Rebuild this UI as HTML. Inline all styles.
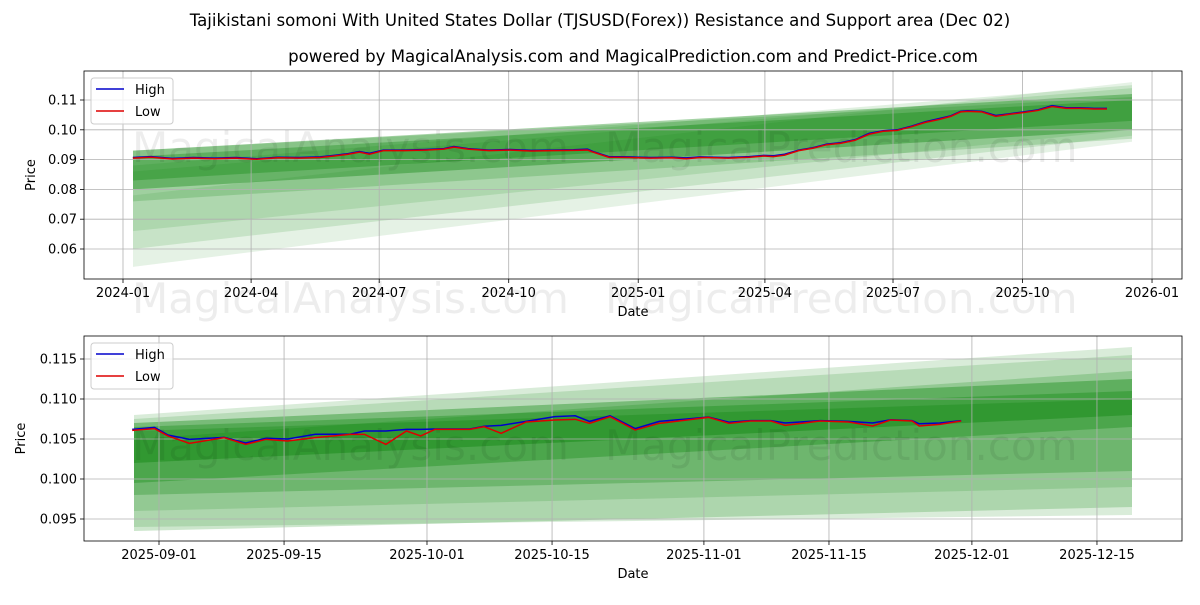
<!DOCTYPE html>
<html><head><meta charset="utf-8"><style>
body{margin:0;background:#fff;}
svg text{font-family:"DejaVu Sans","Liberation Sans",sans-serif;}
</style></head><body>
<svg id="c" width="1200" height="600" xmlns="http://www.w3.org/2000/svg">
<text x="600" y="26" text-anchor="middle" font-size="16.6" fill="#000">Tajikistani somoni With United States Dollar (TJSUSD(Forex)) Resistance and Support area (Dec 02)</text>
<text x="633" y="62" text-anchor="middle" font-size="16.6" fill="#000">powered by MagicalAnalysis.com and MagicalPrediction.com and Predict-Price.com</text>
</svg>
<script>
// ---- top chart data (day offsets from 2024-01-01) ----
const topDays=[7,20,35,50,65,80,95,110,125,140,150,160,168,175,185,200,215,228,235,245,260,275,290,305,320,330,334,345,360,375,390,400,410,420,430,445,455,462,470,480,490,500,510,520,530,540,550,560,570,580,588,595,600,610,620,630,640,650,660,670,680,690,699];
const topLow=[.0905,.0908,.0902,.0905,.0903,.0905,.0901,.0906,.0905,.0907,.0912,.0918,.0925,.0918,.0930,.0930,.0932,.0935,.0942,.0935,.0930,.0932,.0929,.0930,.0931,.0932,.0925,.0908,.0907,.0905,.0906,.0903,.0907,.0906,.0905,.0908,.0912,.0910,.0915,.0930,.0938,.0950,.0955,.0965,.0985,.0995,.0998,.1010,.1025,.1035,.1045,.1060,.1062,.1060,.1045,.1052,.1058,.1065,.1078,.1072,.1072,.1070,.1070];
const topHigh=[.0907,.0910,.0904,.0907,.0905,.0907,.0903,.0908,.0907,.0909,.0914,.0920,.0927,.0921,.0932,.0932,.0934,.0937,.0944,.0937,.0932,.0934,.0931,.0932,.0933,.0935,.0927,.0910,.0909,.0907,.0908,.0906,.0909,.0908,.0907,.0910,.0914,.0913,.0918,.0932,.0940,.0952,.0957,.0967,.0988,.0997,.1000,.1012,.1027,.1038,.1047,.1062,.1064,.1062,.1048,.1054,.1060,.1067,.1081,.1074,.1074,.1072,.1072];
const topTickLabels=["2024-01","2024-04","2024-07","2024-10","2025-01","2025-04","2025-07","2025-10","2026-01"];
const topTickDays=[0,91,182,274,366,456,547,639,731];
const topYTicks=[0.06,0.07,0.08,0.09,0.10,0.11];
const topBandStartLow=[.080,.083,.060,.054,.066,.076];
const topBandStartHigh=[.093,.091,.086,.078,.088,.093];
const topBandEndLow=[.100,.103,.098,.096,.100,.097];
const topBandEndHigh=[.112,.110,.114,.116,.115,.111];
const topBandAlpha=[.35,.3,.13,.1,.12,.18];
// ---- bottom chart data (day offsets from 2025-09-01) ----
const botDays=[-3,-0.5,1,3.4,7.3,9.7,12,14.4,17.5,21.4,23,25.4,27.7,29.3,30.9,34.8,36.4,38.3,41.1,44.3,46.6,48.2,50.5,53.3,56,59.1,61.5,63.8,66.2,68.5,70.1,74,77.2,79.9,81.9,84.3,85.1,87.4,89.8];
const botLow=[.10608,.10629,.10538,.10446,.10517,.10433,.10496,.10475,.10517,.10558,.10558,.10433,.10600,.10538,.10621,.10621,.10654,.10571,.10713,.10738,.10746,.10696,.10779,.10613,.10696,.10738,.10771,.10696,.10725,.10725,.10671,.10725,.10713,.10663,.10738,.10725,.10663,.10683,.10725];
const botHigh=[.10620,.10645,.10550,.10496,.10520,.10450,.10510,.10500,.10560,.10560,.10600,.10600,.10620,.10620,.10625,.10625,.10660,.10670,.10720,.10780,.10790,.10720,.10790,.10630,.10720,.10750,.10775,.10710,.10730,.10730,.10700,.10730,.10720,.10700,.10740,.10730,.10690,.10700,.10730];
const botTickLabels=["2025-09-01","2025-09-15","2025-10-01","2025-10-15","2025-11-01","2025-11-15","2025-12-01","2025-12-15"];
const botTickDays=[0,14,30,44,61,75,91,105];
const botYTicks=[0.095,0.100,0.105,0.110,0.115];
const botBandStartLow=[.102,.0995,.094,.0935,.096,.098];
const botBandStartHigh=[.107,.1065,.108,.105,.1075,.106];
const botBandEndLow=[.108,.1065,.0955,.0965,.099,.101];
const botBandEndHigh=[.1125,.111,.1165,.1135,.1155,.110];
const botBandAlpha=[.35,.3,.15,.2,.15,.25];

const NS="http://www.w3.org/2000/svg";
const svg=document.getElementById('c');
function mk(tag,attrs,parent){const e=document.createElementNS(NS,tag);for(const k in attrs)e.setAttribute(k,attrs[k]);(parent||svg).appendChild(e);return e;}

function drawPanel(o){
  const g=mk('g',{});
  
  
  const xs=d=>o.x0+(d-o.d0)*o.pxd;
  const ys=v=>o.y0+(o.v0-v)*o.pxv;
  for(let i=0;i<o.bsl.length;i++){
    const p=mk('polygon',{points:`${o.bx0},${ys(o.bsh[i])} ${o.bx1},${ys(o.beh[i])} ${o.bx1},${ys(o.bel[i])} ${o.bx0},${ys(o.bsl[i])}`,fill:'rgb(0,128,0)','fill-opacity':o.ba[i]},g);
    
    
  }
  o.tickDays.forEach((d,i)=>{
    const x=xs(d);
    const l=mk('line',{x1:x,x2:x,y1:o.top,y2:o.bottom,stroke:'#b0b0b0','stroke-width':0.8},g);
    
    
    mk('line',{x1:x,x2:x,y1:o.bottom,y2:o.bottom+4,stroke:'#000','stroke-width':0.8},g);
    const t=mk('text',{x:x,y:o.bottom+18,'text-anchor':'middle','font-size':13},g);
    t.textContent=o.tickLabels[i];
    
    
  });
  o.yTicks.forEach(v=>{
    const y=ys(v);
    const l=mk('line',{x1:o.left,x2:o.right,y1:y,y2:y,stroke:'#b0b0b0','stroke-width':0.8},g);
    
    
    mk('line',{x1:o.left-4,x2:o.left,y1:y,y2:y,stroke:'#000','stroke-width':0.8},g);
    const t=mk('text',{x:o.left-7,y:y+4.5,'text-anchor':'end','font-size':13},g);
    t.textContent=v.toFixed(o.dec);
    
    
  });
  const w1=mk('text',{x:o.wm1x,y:o.wmy,'font-size':42,fill:'#000','fill-opacity':0.07},g);
  w1.textContent='MagicalAnalysis.com';
  
  
  const w2=mk('text',{x:o.wm2x,y:o.wmy,'font-size':42,fill:'#000','fill-opacity':0.07},g);
  w2.textContent='MagicalPrediction.com';
  
  
  const hp=mk('polyline',{points:o.days.map((d,i)=>xs(d)+','+ys(o.high[i])).join(' '),fill:'none',stroke:'#0000cc','stroke-width':1.5},g);
  
  
  const lp=mk('polyline',{points:o.days.map((d,i)=>xs(d)+','+ys(o.low[i])).join(' '),fill:'none',stroke:'#dd0000','stroke-width':1.5},g);
  
  
  mk('rect',{x:o.left,y:o.top,width:o.right-o.left,height:o.bottom-o.top,fill:'none',stroke:'#000','stroke-width':0.8},g);
  const xt=mk('text',{x:(o.left+o.right)/2,y:o.bottom+37,'text-anchor':'middle','font-size':13},g);
  xt.textContent='Date';
  
  
  const yt=mk('text',{x:o.ytx,y:(o.top+o.bottom)/2,'text-anchor':'middle','font-size':13,transform:`rotate(-90 ${o.ytx} ${(o.top+o.bottom)/2})`},g);
  yt.textContent='Price';
  
  
  const lg=mk('g',{},g);
  
  
  mk('rect',{x:o.left+7,y:o.top+7,width:82,height:46,rx:3,fill:'#fff','fill-opacity':0.8,stroke:'#ccc'},lg);
  mk('line',{x1:o.left+12,x2:o.left+40,y1:o.top+18,y2:o.top+18,stroke:'#0000cc','stroke-width':1.5},lg);
  const t1=mk('text',{x:o.left+51,y:o.top+23,'font-size':13},lg);t1.textContent='High';
  
  
  mk('line',{x1:o.left+12,x2:o.left+40,y1:o.top+40,y2:o.top+40,stroke:'#dd0000','stroke-width':1.5},lg);
  const t2=mk('text',{x:o.left+51,y:o.top+45,'font-size':13},lg);t2.textContent='Low';
  
  
}
drawPanel({name:'top-chart',left:84,right:1182,top:71,bottom:279,x0:123,d0:0,pxd:1.4077,y0:100,v0:0.11,pxv:2980,
  bx0:133,bx1:1132,bsl:topBandStartLow,bsh:topBandStartHigh,bel:topBandEndLow,beh:topBandEndHigh,ba:topBandAlpha,
  tickDays:topTickDays,tickLabels:topTickLabels,yTicks:topYTicks,dec:2,days:topDays,low:topLow,high:topHigh,
  wm1x:132,wm2x:605,wmy:162,ytx:35});
drawPanel({name:'bottom-chart',left:84,right:1182,top:336,bottom:541,x0:159,d0:0,pxd:8.933,y0:359,v0:0.115,pxv:8000,
  bx0:134,bx1:1132,bsl:botBandStartLow,bsh:botBandStartHigh,bel:botBandEndLow,beh:botBandEndHigh,ba:botBandAlpha,
  tickDays:botTickDays,tickLabels:botTickLabels,yTicks:botYTicks,dec:3,days:botDays,low:botLow,high:botHigh,
  wm1x:132,wm2x:605,wmy:460,ytx:25});
const wa=mk('text',{x:132,y:313,'font-size':42,fill:'#000','fill-opacity':0.07});wa.textContent='MagicalAnalysis.com';


const wb=mk('text',{x:605,y:313,'font-size':42,fill:'#000','fill-opacity':0.07});wb.textContent='MagicalPrediction.com';


</script>
</body></html>
